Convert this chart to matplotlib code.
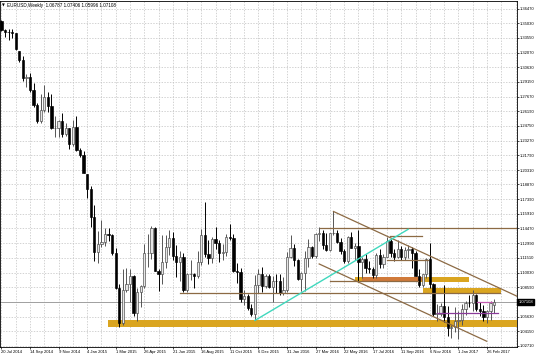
import matplotlib
matplotlib.use("Agg")
import matplotlib.pyplot as plt
from matplotlib.patches import Rectangle
from matplotlib.transforms import blended_transform_factory

# weekly EURUSD candles, one per week starting 20 Jul 2014
opens = [1.3525, 1.3430, 1.3414, 1.3410, 1.3400, 1.3220, 1.3130, 1.2950, 1.2960, 1.2830,
         1.2680, 1.2520, 1.2630, 1.2760, 1.2670, 1.2450, 1.2450, 1.2525, 1.2390, 1.2450,
         1.2290, 1.2460, 1.2230, 1.2180, 1.1990, 1.1840, 1.1560, 1.1205, 1.1290, 1.1315,
         1.1390, 1.1380, 1.1195, 1.0845, 1.0495, 1.0825, 1.0890, 1.0970, 1.0600, 1.0805,
         1.0870, 1.1200, 1.1200, 1.1450, 1.1015, 1.0985, 1.1110, 1.1260, 1.1350, 1.1165,
         1.1110, 1.1160, 1.0830, 1.0985, 1.0985, 1.0970, 1.1105, 1.1385, 1.1185, 1.1150,
         1.1340, 1.1300, 1.1200, 1.1210, 1.1360, 1.1350, 1.1015, 1.1005, 1.0740, 1.0770,
         1.0645, 1.0590, 1.0880, 1.0990, 1.0865, 1.0965, 1.0860, 1.0920, 1.0915, 1.0795,
         1.0830, 1.1160, 1.1255, 1.1130, 1.0935, 1.1000, 1.1150, 1.1265, 1.1165, 1.1390,
         1.1400, 1.1285, 1.1225, 1.1400, 1.1400, 1.1310, 1.1220, 1.1115, 1.1365, 1.1255,
         1.1275, 1.1105, 1.1135, 1.1050, 1.1040, 1.0975, 1.1175, 1.1085, 1.1160, 1.1325,
         1.1195, 1.1155, 1.1235, 1.1155, 1.1225, 1.1240, 1.1200, 1.0970, 1.0880, 1.0985,
         1.1140, 1.0885, 1.0590, 1.0590, 1.0665, 1.0560, 1.0450, 1.0455, 1.0520, 1.0530,
         1.0640, 1.0700, 1.0695, 1.0780, 1.0640, 1.0615, 1.0560, 1.0620, 1.06787]
highs = [1.3535, 1.3445, 1.3440, 1.3445, 1.3405, 1.3225, 1.3170, 1.2995, 1.3000, 1.2900,
         1.2700, 1.2790, 1.2887, 1.2810, 1.2790, 1.2570, 1.2530, 1.2600, 1.2500, 1.2456,
         1.2530, 1.2570, 1.2250, 1.2220, 1.1990, 1.1870, 1.1680, 1.1425, 1.1535, 1.1450,
         1.1450, 1.1390, 1.1245, 1.0890, 1.1043, 1.1050, 1.1035, 1.0980, 1.0850, 1.0880,
         1.1290, 1.1390, 1.1467, 1.1465, 1.1040, 1.1380, 1.1385, 1.1435, 1.1410, 1.1280,
         1.1215, 1.1200, 1.1000, 1.1125, 1.1000, 1.1215, 1.1440, 1.1714, 1.1330, 1.1360,
         1.1460, 1.1335, 1.1290, 1.1390, 1.1495, 1.1390, 1.1100, 1.1050, 1.0830, 1.0790,
         1.0690, 1.0980, 1.1042, 1.1060, 1.0990, 1.0990, 1.0970, 1.0990, 1.0990, 1.0960,
         1.1210, 1.1376, 1.1290, 1.1140, 1.1010, 1.1218, 1.1342, 1.1275, 1.1400, 1.1464,
         1.1430, 1.1400, 1.1400, 1.1616, 1.1435, 1.1350, 1.1240, 1.1375, 1.1415, 1.1300,
         1.1428, 1.1155, 1.1185, 1.1120, 1.1060, 1.1195, 1.1235, 1.1185, 1.1365, 1.1340,
         1.1240, 1.1330, 1.1275, 1.1260, 1.1280, 1.1260, 1.1215, 1.1040, 1.0990, 1.1145,
         1.1300, 1.0895, 1.0690, 1.0700, 1.0875, 1.0670, 1.0480, 1.0655, 1.0620, 1.0685,
         1.0720, 1.0775, 1.0830, 1.0790, 1.0710, 1.0680, 1.0630, 1.0714, 1.07406]
lows = [1.3422, 1.3366, 1.3333, 1.3350, 1.3236, 1.3110, 1.2920, 1.2860, 1.2815, 1.2665,
        1.2500, 1.2500, 1.2615, 1.2615, 1.2440, 1.2358, 1.2360, 1.2360, 1.2375, 1.2247,
        1.2270, 1.2220, 1.2160, 1.2000, 1.1755, 1.1460, 1.1115, 1.1098, 1.1260, 1.1270,
        1.1320, 1.1175, 1.0840, 1.0462, 1.0480, 1.0810, 1.0710, 1.0570, 1.0520, 1.0660,
        1.0850, 1.1060, 1.1140, 1.1015, 1.0820, 1.0890, 1.1050, 1.1180, 1.1130, 1.0955,
        1.0915, 1.0810, 1.0805, 1.0930, 1.0850, 1.0950, 1.1080, 1.1160, 1.1085, 1.1100,
        1.1240, 1.1105, 1.1125, 1.1170, 1.1330, 1.1005, 1.0900, 1.0705, 1.0675, 1.0625,
        1.0565, 1.0524, 1.0800, 1.0805, 1.0850, 1.0850, 1.0710, 1.0800, 1.0780, 1.0780,
        1.0810, 1.1150, 1.1070, 1.0930, 1.0822, 1.0822, 1.1060, 1.1145, 1.1145, 1.1325,
        1.1235, 1.1215, 1.1215, 1.1385, 1.1305, 1.1185, 1.1095, 1.1100, 1.1255, 1.1130,
        1.0912, 1.0950, 1.1000, 1.1000, 1.0950, 1.0950, 1.1045, 1.1045, 1.1155, 1.1160,
        1.1120, 1.1145, 1.1125, 1.1125, 1.1150, 1.1050, 1.0965, 1.0860, 1.0860, 1.0950,
        1.0850, 1.0570, 1.0520, 1.0570, 1.0505, 1.0365, 1.0352, 1.0410, 1.0340, 1.0480,
        1.0580, 1.0660, 1.0620, 1.0620, 1.0570, 1.0520, 1.0494, 1.0525, 1.05996]
closes = [1.3430, 1.3414, 1.3410, 1.3400, 1.3240, 1.3130, 1.2950, 1.2960, 1.2830, 1.2680,
          1.2520, 1.2630, 1.2760, 1.2670, 1.2450, 1.2450, 1.2525, 1.2390, 1.2450, 1.2290,
          1.2460, 1.2230, 1.2180, 1.2000, 1.1840, 1.1560, 1.1205, 1.1290, 1.1315, 1.1390,
          1.1380, 1.1195, 1.0845, 1.0495, 1.0825, 1.0890, 1.0970, 1.0600, 1.0805, 1.0870,
          1.1200, 1.1200, 1.1450, 1.1015, 1.0985, 1.1110, 1.1260, 1.1350, 1.1165, 1.1110,
          1.1160, 1.0830, 1.0985, 1.0985, 1.0970, 1.1105, 1.1385, 1.1185, 1.1150, 1.1340,
          1.1300, 1.1200, 1.1210, 1.1360, 1.1350, 1.1015, 1.1005, 1.0740, 1.0770, 1.0645,
          1.0590, 1.0880, 1.0990, 1.0865, 1.0965, 1.0860, 1.0920, 1.0915, 1.0795, 1.0830,
          1.1160, 1.1255, 1.1130, 1.0935, 1.1000, 1.1150, 1.1265, 1.1165, 1.1390, 1.1400,
          1.1285, 1.1225, 1.1400, 1.1400, 1.1310, 1.1220, 1.1115, 1.1365, 1.1255, 1.1275,
          1.1105, 1.1135, 1.1050, 1.1040, 1.0975, 1.1175, 1.1085, 1.1160, 1.1325, 1.1195,
          1.1155, 1.1235, 1.1155, 1.1225, 1.1240, 1.1200, 1.0970, 1.0880, 1.0985, 1.1140,
          1.0885, 1.0590, 1.0590, 1.0665, 1.0560, 1.0450, 1.0455, 1.0520, 1.0530, 1.0640,
          1.0700, 1.0695, 1.0780, 1.0640, 1.0615, 1.0560, 1.0620, 1.0699, 1.07108]

date_labels = ["20 Jul 2014", "14 Sep 2014", "9 Nov 2014", "4 Jan 2015", "1 Mar 2015",
               "26 Apr 2015", "21 Jun 2015", "16 Aug 2015", "11 Oct 2015", "6 Dec 2015",
               "31 Jan 2016", "27 Mar 2016", "22 May 2016", "17 Jul 2016", "11 Sep 2016",
               "6 Nov 2016", "1 Jan 2017", "26 Feb 2017"]
price_levels = [1.02710, 1.04150, 1.05630, 1.07110, 1.08590, 1.10030, 1.11510, 1.12990,
                1.14470, 1.15910, 1.17390, 1.18870, 1.20310, 1.21790, 1.23270, 1.24750,
                1.26190, 1.27670, 1.29150, 1.30630, 1.32070, 1.33550, 1.35030, 1.36470]
bid = 1.07108
header = "EURUSD,Weekly  1.06787 1.07406 1.05996 1.07108"

# drawn objects, as (bar, price)
zones = [  # x0, x1, p0, p1, colour
    (29.8, 145, 1.0455, 1.0528, "#DAA520"),
    (118.1, 140.0, 1.0800, 1.0850, "#DAA520"),
    (99.0, 131.0, 1.0912, 1.0962, "#DAA520"),
    (101.0, 118.0, 1.0918, 1.0956, "#D07A3A"),
]
brown_lines = [
    [(93.0, 1.1616), (145.0, 1.0757)],   # channel top
    [(89.0, 1.1090), (135.9, 1.0316)],   # channel bottom
    [(89.2, 1.1447), (145.0, 1.1447)],
    [(50.0, 1.0798), (139.6, 1.0798)],
    [(92.0, 1.0919), (116.7, 1.0919)],
    [(108.8, 1.1370), (117.8, 1.1370)],
    [(108.0, 1.1130), (119.5, 1.1130)],
]
cyan_line = [(71.0, 1.0524), (113.9, 1.1437)]
purple_line = [(121.9, 1.0596), (139.1, 1.0596)]
pink_line = [(133.2, 1.0704), (137.4, 1.0704)]

plt.rcParams["font.family"] = ["Liberation Sans", "DejaVu Sans"]

fig = plt.figure(figsize=(5.36, 3.57), dpi=100)
ax = fig.add_axes([0.0, 10 / 357, 517 / 536, 346 / 357])
ax.set_xlim(-0.39, 144.4)
ax.set_ylim(1.0258, 1.3725)

# grid
for p in price_levels:
    ax.axhline(p, color="#c0c0c0", lw=0.5, ls=(0, (2, 2)), zorder=0)
for b in range(0, 145, 4):
    ax.axvline(b, color="#c0c0c0", lw=0.5, ls=(0, (2, 2)), zorder=0)

for x0, x1, p0, p1, col in zones:
    ax.add_patch(Rectangle((x0, p0), x1 - x0, p1 - p0, facecolor=col,
                           edgecolor="none", zorder=1))

# candles
for i, (o, h, l, c) in enumerate(zip(opens, highs, lows, closes)):
    bull = c >= o
    ax.vlines(i, l, h, color="#555555" if bull else "black", lw=0.7, zorder=2)
    body = max(abs(c - o), 0.0004)
    ax.add_patch(Rectangle((i - 0.32, min(o, c)), 0.64, body,
                           facecolor="#e6e6e6" if bull else "black",
                           edgecolor="#444444" if bull else "black",
                           lw=0.45, zorder=2.1))

ax.axhline(bid, color="#a0a0a0", lw=0.7, zorder=1.8)
for seg in brown_lines:
    (xa, ya), (xb, yb) = seg
    ax.plot([xa, xb], [ya, yb], color="#8c6a44", lw=0.9, zorder=3)
ax.plot(*zip(*cyan_line), color="#3fd8bd", lw=1.0, zorder=3)
ax.plot(*zip(*purple_line), color="#8a3c9a", lw=0.9, zorder=3)
ax.plot(*zip(*pink_line), color="#c25cb0", lw=0.9, zorder=3)

# axes and labels
for s in ax.spines.values():
    s.set_color("black")
    s.set_linewidth(0.6)
ax.yaxis.tick_right()
ax.set_yticks(price_levels)
# the grid label under the bid box is hidden on the chart
ax.set_yticklabels(["" if abs(p - bid) < 0.0005 else f"{p:.5f}" for p in price_levels])
ax.set_xticks(range(0, 8 * len(date_labels), 8))
ax.set_xticklabels(date_labels, ha="left")
ax.tick_params(axis="both", labelsize=3.0, length=1.5, width=0.5, pad=0.8,
               colors="black")

tr = blended_transform_factory(ax.transAxes, ax.transData)
ax.text(1.003, bid, f"{bid:.5f}", transform=tr, color="white", fontsize=3.0,
        va="center", ha="left", zorder=6, clip_on=False,
        bbox=dict(facecolor="black", edgecolor="black", pad=0.8))

ax.text(0.004, 0.993, "\u25bc", transform=ax.transAxes, fontsize=2.6,
        va="top", ha="left", family="DejaVu Sans")
ax.text(0.013, 0.994, header, transform=ax.transAxes, fontsize=3.3,
        va="top", ha="left")

fig.savefig("out.png", dpi=100, facecolor="white")
